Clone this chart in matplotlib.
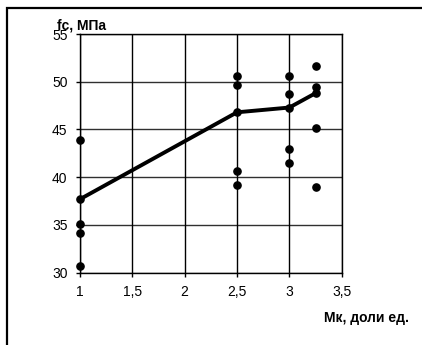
import matplotlib
matplotlib.use('Agg')
import matplotlib.pyplot as plt
from matplotlib.patches import Rectangle

plt.rcParams['font.family'] = ['Liberation Sans', 'DejaVu Sans']

# measured strength at each modulus value
mk_points = [1, 1, 1, 1,
             2.5, 2.5, 2.5, 2.5,
             3, 3, 3, 3,
             3.25, 3.25, 3.25, 3.25]
fc_points = [43.9, 35.1, 34.2, 30.7,
             50.6, 49.7, 40.6, 39.2,
             50.6, 48.7, 43.0, 41.5,
             51.6, 49.5, 45.2, 39.0]

# trend line
mk_line = [1, 2.5, 3, 3.25]
fc_line = [37.7, 46.8, 47.3, 48.8]

x_ticks = [1, 1.5, 2, 2.5, 3, 3.5]
x_labels = ['1', '1,5', '2', '2,5', '3', '3,5']
y_ticks = [30, 35, 40, 45, 50, 55]

fig = plt.figure(figsize=(4.22, 3.45), dpi=100)
ax = fig.add_axes([0.1896, 0.2096, 0.6201, 0.6918])

ax.set_xlim(1, 3.5)
ax.set_ylim(30, 55)
ax.set_xticks(x_ticks)
ax.set_xticklabels(x_labels)
ax.set_yticks(y_ticks)

for y in y_ticks:
    ax.axhline(y, color='#303030', lw=1.0, zorder=1)
for x in x_ticks:
    ax.axvline(x, color='black', lw=1.0, zorder=1)

for s in ax.spines.values():
    s.set_color('black')
    s.set_linewidth(1.0)

ax.tick_params(direction='out', length=3, width=1, labelsize=10, pad=6)

ax.plot(mk_line, fc_line, color='black', lw=2.8, zorder=3)
ax.scatter(mk_points + mk_line, fc_points + fc_line, s=27, color='black',
           zorder=4, clip_on=False)

fig.text(57 / 422, 1 - 26 / 345, 'fc, МПа', fontsize=10, fontweight='bold',
         ha='left', va='center')
fig.text(409 / 422, 1 - 318 / 345, 'Мк, доли ед.', fontsize=10,
         fontweight='bold', ha='right', va='center')

# outer frame
fig.patches.append(Rectangle((7 / 422, -0.1), 1.2, 1 - 8 / 345 + 0.1,
                             transform=fig.transFigure, fill=False,
                             edgecolor='black', lw=1.6))

fig.savefig('out.png', dpi=100)
